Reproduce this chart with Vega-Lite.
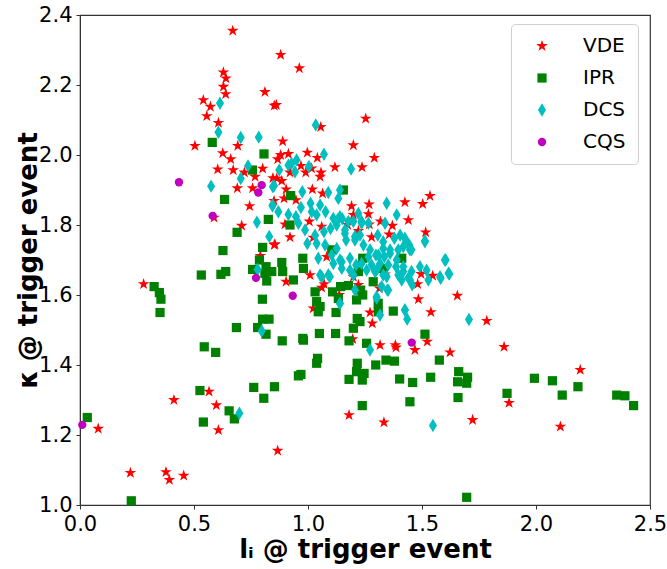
{
"$schema": "https://vega.github.io/schema/vega-lite/v6.json",
"width": 570, "height": 490,
"autosize": "none",
"padding": {"left": 80, "top": 15, "right": 17, "bottom": 64},
"config": {
  "font": "DejaVu Sans",
  "view": {"stroke": "#333", "strokeWidth": 1.2},
  "axis": {"labelFontSize": 21, "labelColor": "#000", "titleFontSize": 26, "titleFontWeight": "bold", "titleColor": "#000", "tickColor": "#333", "domainColor": "#333", "grid": false, "tickSize": 4, "labelPadding": 4, "labelFlush": false, "labelFont": "DejaVu Sans", "titleFont": "DejaVu Sans"}
},
"datasets": {
"pts": [
{"g":"VDE","x":0.67,"y":2.355},{"g":"VDE","x":0.629,"y":2.236},{"g":"VDE","x":0.64,"y":2.219},{"g":"VDE","x":0.629,"y":2.195},{"g":"VDE","x":0.639,"y":2.174},{"g":"VDE","x":0.811,"y":2.18},{"g":"VDE","x":0.541,"y":2.157},{"g":"VDE","x":0.572,"y":2.138},{"g":"VDE","x":0.556,"y":2.111},{"g":"VDE","x":0.607,"y":2.092},{"g":"VDE","x":0.852,"y":2.141},{"g":"VDE","x":0.504,"y":2.026},{"g":"VDE","x":0.692,"y":2.026},{"g":"VDE","x":0.626,"y":2.005},{"g":"VDE","x":0.661,"y":1.988},{"g":"VDE","x":0.604,"y":1.959},{"g":"VDE","x":0.672,"y":1.957},{"g":"VDE","x":0.721,"y":1.95},{"g":"VDE","x":0.801,"y":1.961},{"g":"VDE","x":0.768,"y":1.938},{"g":"VDE","x":0.846,"y":1.934},
{"g":"VDE","x":0.88,"y":2.286},{"g":"VDE","x":0.962,"y":2.248},{"g":"VDE","x":0.861,"y":2.143},{"g":"VDE","x":1.253,"y":2.104},{"g":"VDE","x":1.056,"y":2.08},{"g":"VDE","x":0.889,"y":2.039},{"g":"VDE","x":1.199,"y":2.028},{"g":"VDE","x":1.291,"y":1.992},{"g":"VDE","x":0.997,"y":2.007},{"g":"VDE","x":0.88,"y":2.0},{"g":"VDE","x":0.914,"y":2.003},{"g":"VDE","x":0.867,"y":1.988},{"g":"VDE","x":1.041,"y":1.992},{"g":"VDE","x":1.118,"y":1.965},{"g":"VDE","x":1.237,"y":1.965},{"g":"VDE","x":0.969,"y":1.969},{"g":"VDE","x":1.016,"y":1.962},{"g":"VDE","x":0.921,"y":1.95},{"g":"VDE","x":0.99,"y":1.95},{"g":"VDE","x":1.057,"y":1.95},{"g":"VDE","x":1.053,"y":1.938},{"g":"VDE","x":0.863,"y":1.933},
{"g":"VDE","x":0.69,"y":1.905},{"g":"VDE","x":0.757,"y":1.905},{"g":"VDE","x":0.744,"y":1.854},{"g":"VDE","x":0.709,"y":1.798},{"g":"VDE","x":0.588,"y":1.821},{"g":"VDE","x":0.791,"y":1.712},{"g":"VDE","x":0.852,"y":1.743},{"g":"VDE","x":0.279,"y":1.631},
{"g":"VDE","x":0.566,"y":1.324},{"g":"VDE","x":0.598,"y":1.285},{"g":"VDE","x":0.607,"y":1.214},{"g":"VDE","x":0.412,"y":1.3},{"g":"VDE","x":0.08,"y":1.218},{"g":"VDE","x":0.221,"y":1.092},{"g":"VDE","x":0.377,"y":1.094},{"g":"VDE","x":0.392,"y":1.072},{"g":"VDE","x":0.455,"y":1.084},
{"g":"VDE","x":1.316,"y":1.457},{"g":"VDE","x":1.383,"y":1.457},{"g":"VDE","x":1.386,"y":1.45},{"g":"VDE","x":1.469,"y":1.443},{"g":"VDE","x":1.523,"y":1.467},{"g":"VDE","x":1.623,"y":1.436},{"g":"VDE","x":1.18,"y":1.257},{"g":"VDE","x":1.333,"y":1.236},{"g":"VDE","x":0.867,"y":1.155},
{"g":"VDE","x":1.86,"y":1.452},{"g":"VDE","x":2.194,"y":1.386},{"g":"VDE","x":1.882,"y":1.292},{"g":"VDE","x":1.722,"y":1.243},{"g":"VDE","x":2.107,"y":1.224},{"g":"VDE","x":1.784,"y":1.526},
{"g":"VDE","x":0.885,"y":1.926},{"g":"VDE","x":1.019,"y":1.902},{"g":"VDE","x":1.535,"y":1.883},{"g":"VDE","x":1.425,"y":1.865},{"g":"VDE","x":1.503,"y":1.86},{"g":"VDE","x":1.268,"y":1.859},{"g":"VDE","x":1.191,"y":1.854},{"g":"VDE","x":1.265,"y":1.831},{"g":"VDE","x":0.895,"y":1.876},{"g":"VDE","x":0.947,"y":1.871},{"g":"VDE","x":0.851,"y":1.869},{"g":"VDE","x":0.904,"y":1.902},{"g":"VDE","x":1.006,"y":1.81},{"g":"VDE","x":1.06,"y":1.795},{"g":"VDE","x":0.899,"y":1.802},{"g":"VDE","x":0.921,"y":1.765},{"g":"VDE","x":0.855,"y":1.745},{"g":"VDE","x":1.023,"y":1.764},{"g":"VDE","x":1.174,"y":1.8},{"g":"VDE","x":1.221,"y":1.783},{"g":"VDE","x":1.269,"y":1.802},{"g":"VDE","x":1.318,"y":1.81},{"g":"VDE","x":1.37,"y":1.798},{"g":"VDE","x":1.356,"y":1.773},{"g":"VDE","x":1.279,"y":1.765},{"g":"VDE","x":1.44,"y":1.814},{"g":"VDE","x":1.516,"y":1.779},{"g":"VDE","x":1.082,"y":1.709},{"g":"VDE","x":1.009,"y":1.657},{"g":"VDE","x":0.904,"y":1.638},{"g":"VDE","x":1.071,"y":1.631},{"g":"VDE","x":1.06,"y":1.621},{"g":"VDE","x":1.221,"y":1.629},{"g":"VDE","x":1.338,"y":1.659},{"g":"VDE","x":1.313,"y":1.619},{"g":"VDE","x":1.496,"y":1.66},{"g":"VDE","x":1.547,"y":1.655},{"g":"VDE","x":1.481,"y":1.631},{"g":"VDE","x":1.484,"y":1.588},{"g":"VDE","x":1.655,"y":1.598},{"g":"VDE","x":1.539,"y":1.551},{"g":"VDE","x":1.272,"y":1.55},{"g":"VDE","x":1.282,"y":1.519},{"g":"VDE","x":1.137,"y":1.6},{"g":"VDE","x":1.023,"y":1.562},{"g":"VDE","x":1.196,"y":1.474},{"g":"VDE","x":1.199,"y":1.829},{"g":"VDE","x":1.064,"y":1.89},{"g":"VDE","x":1.199,"y":1.652},
{"g":"IPR","x":0.58,"y":2.036},{"g":"IPR","x":0.807,"y":2.003},{"g":"IPR","x":0.756,"y":1.957},{"g":"IPR","x":0.634,"y":1.873},{"g":"IPR","x":0.826,"y":1.816},{"g":"IPR","x":0.689,"y":1.779},{"g":"IPR","x":0.627,"y":1.727},{"g":"IPR","x":0.801,"y":1.736},{"g":"IPR","x":0.787,"y":1.7},{"g":"IPR","x":0.532,"y":1.657},{"g":"IPR","x":0.618,"y":1.659},{"g":"IPR","x":0.639,"y":1.667},{"g":"IPR","x":0.757,"y":1.673},{"g":"IPR","x":0.816,"y":1.681},{"g":"IPR","x":0.811,"y":1.662},{"g":"IPR","x":0.819,"y":1.64},{"g":"IPR","x":0.325,"y":1.624},{"g":"IPR","x":0.348,"y":1.607},{"g":"IPR","x":0.355,"y":1.588},{"g":"IPR","x":0.351,"y":1.55},{"g":"IPR","x":0.8,"y":1.588},{"g":"IPR","x":0.801,"y":1.531},{"g":"IPR","x":0.829,"y":1.531},{"g":"IPR","x":0.686,"y":1.507},{"g":"IPR","x":0.779,"y":1.507},{"g":"IPR","x":0.816,"y":1.488},{"g":"IPR","x":0.545,"y":1.452},
{"g":"IPR","x":0.595,"y":1.436},{"g":"IPR","x":0.526,"y":1.327},{"g":"IPR","x":0.541,"y":1.237},{"g":"IPR","x":0.654,"y":1.269},{"g":"IPR","x":0.677,"y":1.246},{"g":"IPR","x":0.762,"y":1.336},{"g":"IPR","x":0.806,"y":1.305},{"g":"IPR","x":0.853,"y":1.338},{"g":"IPR","x":0.032,"y":1.25},{"g":"IPR","x":0.225,"y":1.012},
{"g":"IPR","x":0.887,"y":1.469},{"g":"IPR","x":0.98,"y":1.471},{"g":"IPR","x":1.18,"y":1.469},{"g":"IPR","x":1.257,"y":1.462},{"g":"IPR","x":1.042,"y":1.419},{"g":"IPR","x":1.038,"y":1.405},{"g":"IPR","x":0.969,"y":1.373},{"g":"IPR","x":0.958,"y":1.369},{"g":"IPR","x":1.216,"y":1.405},{"g":"IPR","x":1.213,"y":1.381},{"g":"IPR","x":1.246,"y":1.376},{"g":"IPR","x":1.18,"y":1.359},{"g":"IPR","x":1.238,"y":1.357},{"g":"IPR","x":1.297,"y":1.4},{"g":"IPR","x":1.342,"y":1.414},{"g":"IPR","x":1.379,"y":1.411},{"g":"IPR","x":1.402,"y":1.36},{"g":"IPR","x":1.459,"y":1.35},{"g":"IPR","x":1.447,"y":1.295},{"g":"IPR","x":1.538,"y":1.365},{"g":"IPR","x":1.576,"y":1.414},{"g":"IPR","x":1.661,"y":1.381},{"g":"IPR","x":1.656,"y":1.352},{"g":"IPR","x":1.696,"y":1.348},{"g":"IPR","x":1.7,"y":1.365},{"g":"IPR","x":1.658,"y":1.307},{"g":"IPR","x":1.238,"y":1.284},{"g":"IPR","x":1.696,"y":1.022},
{"g":"IPR","x":1.873,"y":1.319},{"g":"IPR","x":1.993,"y":1.362},{"g":"IPR","x":2.072,"y":1.355},{"g":"IPR","x":2.115,"y":1.314},{"g":"IPR","x":2.184,"y":1.338},{"g":"IPR","x":2.354,"y":1.314},{"g":"IPR","x":2.39,"y":1.312},{"g":"IPR","x":2.428,"y":1.284},
{"g":"IPR","x":0.924,"y":1.884},{"g":"IPR","x":1.155,"y":1.9},{"g":"IPR","x":0.921,"y":1.8},{"g":"IPR","x":0.977,"y":1.705},{"g":"IPR","x":0.98,"y":1.676},{"g":"IPR","x":0.885,"y":1.693},{"g":"IPR","x":0.889,"y":1.667},{"g":"IPR","x":0.936,"y":1.643},{"g":"IPR","x":0.841,"y":1.667},{"g":"IPR","x":1.104,"y":1.729},{"g":"IPR","x":1.411,"y":1.705},{"g":"IPR","x":1.221,"y":1.667},{"g":"IPR","x":1.286,"y":1.638},{"g":"IPR","x":1.031,"y":1.609},{"g":"IPR","x":1.108,"y":1.609},{"g":"IPR","x":1.143,"y":1.624},{"g":"IPR","x":1.177,"y":1.627},{"g":"IPR","x":1.231,"y":1.614},{"g":"IPR","x":1.038,"y":1.581},{"g":"IPR","x":1.053,"y":1.567},{"g":"IPR","x":1.045,"y":1.552},{"g":"IPR","x":1.133,"y":1.59},{"g":"IPR","x":1.213,"y":1.586},{"g":"IPR","x":1.24,"y":1.6},{"g":"IPR","x":1.123,"y":1.55},{"g":"IPR","x":1.216,"y":1.533},{"g":"IPR","x":1.228,"y":1.524},{"g":"IPR","x":1.199,"y":1.505},{"g":"IPR","x":1.308,"y":1.576},{"g":"IPR","x":1.308,"y":1.552},{"g":"IPR","x":1.374,"y":1.554},{"g":"IPR","x":1.513,"y":1.488},{"g":"IPR","x":1.05,"y":1.49},{"g":"IPR","x":1.121,"y":1.49},{"g":"IPR","x":0.977,"y":1.476},{"g":"IPR","x":1.24,"y":1.705},{"g":"IPR","x":1.33,"y":1.676},
{"g":"DCS","x":0.614,"y":2.148},{"g":"DCS","x":0.607,"y":2.065},{"g":"DCS","x":0.705,"y":2.05},{"g":"DCS","x":0.784,"y":2.051},{"g":"DCS","x":0.737,"y":1.969},{"g":"DCS","x":0.705,"y":1.933},{"g":"DCS","x":1.034,"y":2.086},{"g":"DCS","x":1.07,"y":2.002},{"g":"DCS","x":1.189,"y":1.96},{"g":"DCS","x":0.874,"y":1.957},{"g":"DCS","x":0.914,"y":1.971},{"g":"DCS","x":0.95,"y":1.986},{"g":"DCS","x":0.928,"y":1.976},{"g":"DCS","x":0.943,"y":1.952},{"g":"DCS","x":1.004,"y":1.967},
{"g":"DCS","x":0.575,"y":1.911},{"g":"DCS","x":0.844,"y":1.855},{"g":"DCS","x":0.776,"y":1.808},{"g":"DCS","x":0.83,"y":1.767},{"g":"DCS","x":0.779,"y":1.673},{"g":"DCS","x":0.797,"y":1.497},{"g":"DCS","x":0.846,"y":1.909},{"g":"DCS","x":0.699,"y":1.262},{"g":"DCS","x":1.272,"y":1.443},{"g":"DCS","x":1.548,"y":1.227},{"g":"DCS","x":1.706,"y":1.53},
{"g":"DCS","x":0.851,"y":1.912},{"g":"DCS","x":0.975,"y":1.895},{"g":"DCS","x":1.089,"y":1.893},{"g":"DCS","x":1.14,"y":1.9},{"g":"DCS","x":1.133,"y":1.876},{"g":"DCS","x":1.345,"y":1.862},{"g":"DCS","x":1.389,"y":1.829},{"g":"DCS","x":1.011,"y":1.862},{"g":"DCS","x":1.053,"y":1.857},{"g":"DCS","x":0.969,"y":1.85},{"g":"DCS","x":0.914,"y":1.83},{"g":"DCS","x":0.947,"y":1.824},{"g":"DCS","x":0.845,"y":1.857},{"g":"DCS","x":0.87,"y":1.838},{"g":"DCS","x":1.038,"y":1.829},{"g":"DCS","x":1.077,"y":1.838},{"g":"DCS","x":1.111,"y":1.819},{"g":"DCS","x":1.13,"y":1.815},{"g":"DCS","x":1.15,"y":1.818},{"g":"DCS","x":0.958,"y":1.805},{"g":"DCS","x":0.987,"y":1.786},{"g":"DCS","x":1.031,"y":1.771},{"g":"DCS","x":1.07,"y":1.781},{"g":"DCS","x":1.099,"y":1.79},{"g":"DCS","x":1.126,"y":1.8},{"g":"DCS","x":1.162,"y":1.786},{"g":"DCS","x":1.199,"y":1.81},{"g":"DCS","x":1.235,"y":1.81},{"g":"DCS","x":1.338,"y":1.805},{"g":"DCS","x":0.997,"y":1.747},{"g":"DCS","x":1.038,"y":1.747},{"g":"DCS","x":1.075,"y":1.743},{"g":"DCS","x":1.126,"y":1.733},{"g":"DCS","x":1.167,"y":1.757},{"g":"DCS","x":1.206,"y":1.757},{"g":"DCS","x":1.228,"y":1.771},{"g":"DCS","x":1.306,"y":1.771},{"g":"DCS","x":1.33,"y":1.752},{"g":"DCS","x":1.379,"y":1.762},{"g":"DCS","x":1.425,"y":1.762},{"g":"DCS","x":1.513,"y":1.755},{"g":"DCS","x":1.444,"y":1.743},{"g":"DCS","x":1.454,"y":1.729},{"g":"DCS","x":1.418,"y":1.738},{"g":"DCS","x":1.396,"y":1.729},{"g":"DCS","x":1.045,"y":1.705},{"g":"DCS","x":1.104,"y":1.714},{"g":"DCS","x":1.111,"y":1.69},{"g":"DCS","x":1.148,"y":1.695},{"g":"DCS","x":1.184,"y":1.705},{"g":"DCS","x":1.211,"y":1.686},{"g":"DCS","x":1.235,"y":1.69},{"g":"DCS","x":1.265,"y":1.709},{"g":"DCS","x":1.298,"y":1.714},{"g":"DCS","x":1.335,"y":1.709},{"g":"DCS","x":1.36,"y":1.719},{"g":"DCS","x":1.316,"y":1.69},{"g":"DCS","x":1.352,"y":1.686},{"g":"DCS","x":1.386,"y":1.681},{"g":"DCS","x":1.418,"y":1.667},{"g":"DCS","x":1.454,"y":1.667},{"g":"DCS","x":1.491,"y":1.681},{"g":"DCS","x":1.52,"y":1.671},{"g":"DCS","x":1.604,"y":1.7},{"g":"DCS","x":1.582,"y":1.648},{"g":"DCS","x":1.62,"y":1.66},{"g":"DCS","x":1.528,"y":1.643},{"g":"DCS","x":1.457,"y":1.629},{"g":"DCS","x":1.411,"y":1.643},{"g":"DCS","x":1.44,"y":1.649},{"g":"DCS","x":1.348,"y":1.614},{"g":"DCS","x":1.33,"y":1.657},{"g":"DCS","x":1.294,"y":1.667},{"g":"DCS","x":1.257,"y":1.671},{"g":"DCS","x":1.053,"y":1.657},{"g":"DCS","x":1.089,"y":1.657},{"g":"DCS","x":1.199,"y":1.657},{"g":"DCS","x":1.148,"y":1.676},{"g":"DCS","x":1.206,"y":1.614},{"g":"DCS","x":1.301,"y":1.591},{"g":"DCS","x":1.425,"y":1.557},{"g":"DCS","x":1.435,"y":1.531},{"g":"DCS","x":1.316,"y":1.543},{"g":"DCS","x":1.14,"y":1.576},
{"g":"DCS","x":1.016,"y":1.838},{"g":"DCS","x":1.14,"y":1.824},{"g":"DCS","x":1.177,"y":1.81},{"g":"DCS","x":1.221,"y":1.833},{"g":"DCS","x":1.235,"y":1.805},{"g":"DCS","x":1.265,"y":1.805},{"g":"DCS","x":1.162,"y":1.776},{"g":"DCS","x":1.206,"y":1.767},{"g":"DCS","x":1.243,"y":1.743},{"g":"DCS","x":1.272,"y":1.729},{"g":"DCS","x":1.309,"y":1.714},{"g":"DCS","x":1.33,"y":1.733},{"g":"DCS","x":1.36,"y":1.729},{"g":"DCS","x":1.389,"y":1.7},{"g":"DCS","x":1.418,"y":1.681},{"g":"DCS","x":1.447,"y":1.729},{"g":"DCS","x":1.432,"y":1.752},{"g":"DCS","x":1.404,"y":1.771},{"g":"DCS","x":1.513,"y":1.752},{"g":"DCS","x":1.6,"y":1.7},{"g":"DCS","x":1.616,"y":1.662},{"g":"DCS","x":1.579,"y":1.652},{"g":"DCS","x":1.447,"y":1.643},{"g":"DCS","x":1.396,"y":1.657},{"g":"DCS","x":1.345,"y":1.652},{"g":"DCS","x":1.301,"y":1.671},{"g":"DCS","x":1.279,"y":1.686},{"g":"DCS","x":1.14,"y":1.7},{"g":"DCS","x":1.184,"y":1.671},{"g":"DCS","x":1.323,"y":1.624},{"g":"DCS","x":1.352,"y":1.614},{"g":"DCS","x":1.301,"y":1.595},{"g":"DCS","x":1.425,"y":1.557},{"g":"DCS","x":1.14,"y":1.576},{"g":"DCS","x":1.096,"y":1.652},{"g":"DCS","x":1.06,"y":1.652},
{"g":"CQS","x":0.434,"y":1.922},{"g":"CQS","x":0.797,"y":1.914},{"g":"CQS","x":0.782,"y":1.893},{"g":"CQS","x":0.582,"y":1.826},{"g":"CQS","x":0.772,"y":1.649},{"g":"CQS","x":0.01,"y":1.229},{"g":"CQS","x":1.455,"y":1.464},{"g":"CQS","x":0.933,"y":1.598}
]
},
"data": {"name": "pts"},
"mark": {"type": "point", "filled": true, "opacity": 1, "strokeWidth": 0},
"encoding": {
  "x": {"field": "x", "type": "quantitative", "scale": {"domain": [0, 2.5], "nice": false, "zero": false}, "axis": {"values": [0, 0.5, 1, 1.5, 2, 2.5], "format": ".1f", "title": "lᵢ @ trigger event", "titlePadding": 2}},
  "y": {"field": "y", "type": "quantitative", "scale": {"domain": [1, 2.4], "nice": false, "zero": false}, "axis": {"values": [1, 1.2, 1.4, 1.6, 1.8, 2.0, 2.2, 2.4], "format": ".1f", "title": "κ @ trigger event", "titlePadding": -3}},
  "color": {"field": "g", "type": "nominal", "scale": {"domain": ["VDE", "IPR", "DCS", "CQS"], "range": ["#ff0000", "#008000", "#00bfbf", "#bf00bf"]},
    "legend": {"orient": "none", "legendX": 431, "legendY": 9, "title": null, "fillColor": "white", "strokeColor": "#d0d0d0", "cornerRadius": 4, "padding": 12, "labelFontSize": 20, "labelColor": "#000", "symbolSize": 60, "rowPadding": 12, "labelOffset": 31, "symbolOffset": 9,
      "encode": {"symbols": {"update": {"size": {"signal": "datum.value == 'DCS' ? 110 : datum.value == 'VDE' ? 75 : datum.value == 'IPR' ? 50 : 48"}}}}}},
  "shape": {"field": "g", "type": "nominal", "scale": {"domain": ["VDE", "IPR", "DCS", "CQS"], "range": ["M0,-1L0.2245,-0.309L0.951,-0.309L0.363,0.118L0.588,0.809L0,0.382L-0.588,0.809L-0.363,0.118L-0.951,-0.309L-0.2245,-0.309Z", "square", "M0,-1L0.6,0L0,1L-0.6,0Z", "circle"]},
    "legend": {"orient": "none", "legendX": 431, "legendY": 9, "title": null}},
  "size": {"field": "g", "type": "nominal", "scale": {"type": "ordinal", "domain": ["VDE", "IPR", "DCS", "CQS"], "range": [150, 85, 180, 70]}, "legend": null}
}
}
